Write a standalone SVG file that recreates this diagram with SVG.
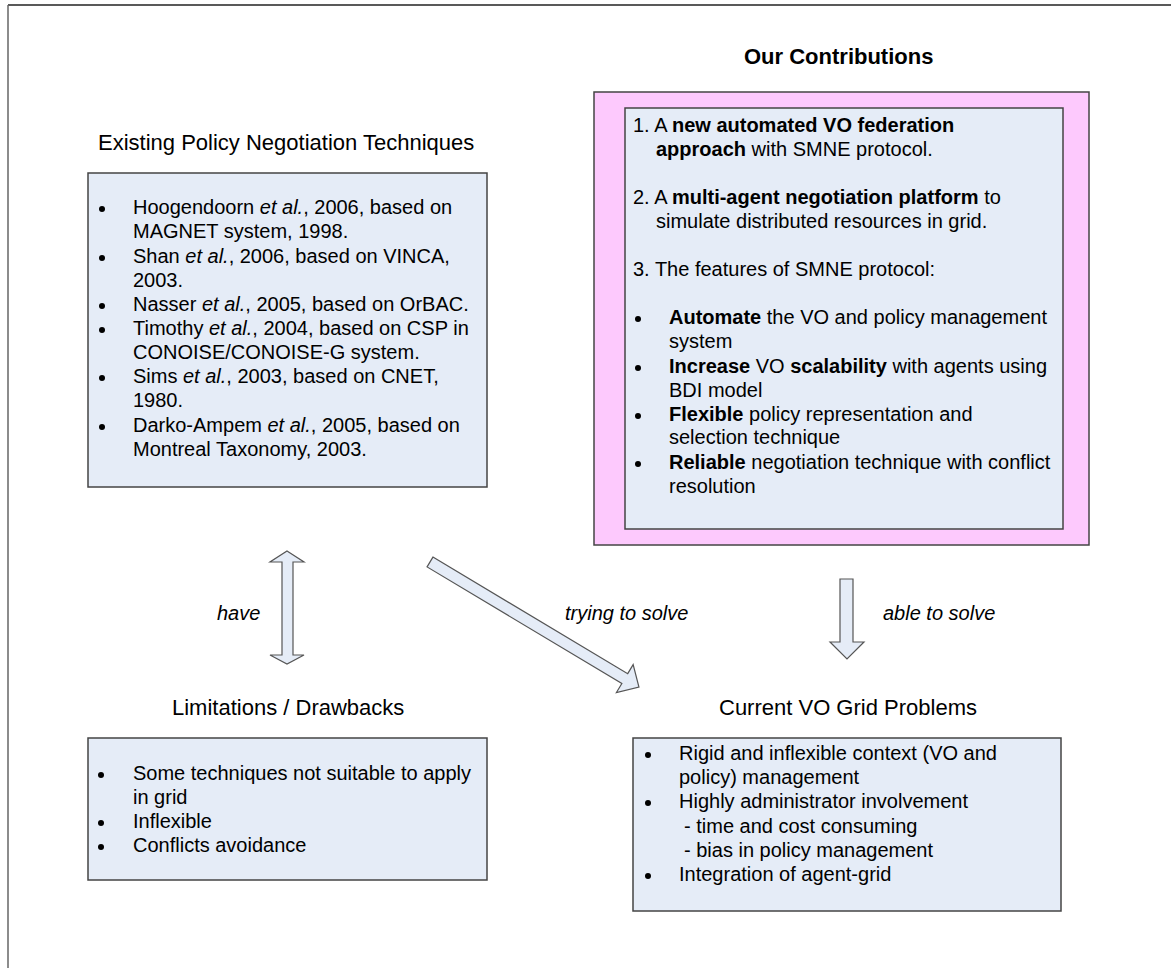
<svg xmlns="http://www.w3.org/2000/svg" width="1171" height="968" viewBox="0 0 1171 968">
<defs>
<style>
text{font-family:"Liberation Sans",Arial,sans-serif;fill:#000;}
.t{font-size:22px;}
.b{font-size:20px;}
.bold{font-weight:bold;}
.it{font-style:italic;}
.box{fill:#E5ECF7;stroke:#444;stroke-width:1.5;}
.pink{fill:#FDC9FD;stroke:#444;stroke-width:1.5;}
.arrow{fill:#E5ECF7;stroke:#555;stroke-width:1.2;stroke-linejoin:miter;}
.dot{fill:#000;}
</style>
</defs>
<rect width="1171" height="968" fill="#fff"/>
<line x1="8" y1="5" x2="1171" y2="5" stroke="#222" stroke-width="1.5"/>
<line x1="8" y1="5" x2="8" y2="968" stroke="#666" stroke-width="1.5"/>

<g id="existing">
<text class="t" x="98" y="150">Existing Policy Negotiation Techniques</text>
<rect class="box" x="88" y="173" width="399" height="314"/>
<g class="b">
<circle class="dot" cx="102" cy="209" r="3"/>
<text class="b" x="133" y="214">Hoogendoorn <tspan class="it">et al.</tspan>, 2006, based on</text>
<text class="b" x="133" y="238">MAGNET system, 1998.</text>
<circle class="dot" cx="102" cy="258" r="3"/>
<text class="b" x="133" y="263">Shan <tspan class="it">et al.</tspan>, 2006, based on VINCA,</text>
<text class="b" x="133" y="287">2003.</text>
<circle class="dot" cx="102" cy="306" r="3"/>
<text class="b" x="133" y="311">Nasser <tspan class="it">et al.</tspan>, 2005, based on OrBAC.</text>
<circle class="dot" cx="102" cy="330" r="3"/>
<text class="b" x="133" y="335">Timothy <tspan class="it">et al.</tspan>, 2004, based on CSP in</text>
<text class="b" x="133" y="359">CONOISE/CONOISE-G system.</text>
<circle class="dot" cx="102" cy="378" r="3"/>
<text class="b" x="133" y="383">Sims <tspan class="it">et al.</tspan>, 2003, based on CNET,</text>
<text class="b" x="133" y="407">1980.</text>
<circle class="dot" cx="102" cy="427" r="3"/>
<text class="b" x="133" y="432">Darko-Ampem <tspan class="it">et al.</tspan>, 2005, based on</text>
<text class="b" x="133" y="456">Montreal Taxonomy, 2003.</text>
</g>
</g>

<g id="contributions">
<text class="t bold" x="744" y="64">Our Contributions</text>
<rect class="pink" x="594" y="92" width="495" height="453"/>
<rect class="box" x="625" y="108" width="438" height="421"/>
<text class="b" x="633" y="132">1. A <tspan class="bold">new automated VO federation</tspan></text>
<text class="b" x="656" y="156"><tspan class="bold">approach</tspan> with SMNE protocol.</text>
<text class="b" x="633" y="204">2. A <tspan class="bold">multi-agent negotiation platform</tspan> to</text>
<text class="b" x="656" y="228">simulate distributed resources in grid.</text>
<text class="b" x="633" y="276">3. The features of SMNE protocol:</text>
<circle class="dot" cx="638" cy="319" r="3"/>
<text class="b" x="669" y="324"><tspan class="bold">Automate</tspan> the VO and policy management</text>
<text class="b" x="669" y="348">system</text>
<circle class="dot" cx="638" cy="368" r="3"/>
<text class="b" x="669" y="373"><tspan class="bold">Increase</tspan> VO <tspan class="bold">scalability</tspan> with agents using</text>
<text class="b" x="669" y="397">BDI model</text>
<circle class="dot" cx="638" cy="416" r="3"/>
<text class="b" x="669" y="421"><tspan class="bold">Flexible</tspan> policy representation and</text>
<text class="b" x="669" y="444">selection technique</text>
<circle class="dot" cx="638" cy="464" r="3"/>
<text class="b" x="669" y="469"><tspan class="bold">Reliable</tspan> negotiation technique with conflict</text>
<text class="b" x="669" y="493">resolution</text>
</g>

<g id="limitations">
<text class="t" x="172" y="715">Limitations / Drawbacks</text>
<rect class="box" x="88" y="738" width="399" height="142"/>
<circle class="dot" cx="101" cy="775" r="3"/>
<text class="b" x="133" y="780">Some techniques not suitable to apply</text>
<text class="b" x="133" y="804">in grid</text>
<circle class="dot" cx="101" cy="823" r="3"/>
<text class="b" x="133" y="828">Inflexible</text>
<circle class="dot" cx="101" cy="847" r="3"/>
<text class="b" x="133" y="852">Conflicts avoidance</text>
</g>

<g id="problems">
<text class="t" x="719" y="715">Current VO Grid Problems</text>
<rect class="box" x="633" y="738" width="428" height="173"/>
<circle class="dot" cx="648" cy="755" r="3"/>
<text class="b" x="679" y="760">Rigid and inflexible context (VO and</text>
<text class="b" x="679" y="784">policy) management</text>
<circle class="dot" cx="648" cy="803" r="3"/>
<text class="b" x="679" y="808">Highly administrator involvement</text>
<text class="b" x="684" y="833">- time and cost consuming</text>
<text class="b" x="684" y="857">- bias in policy management</text>
<circle class="dot" cx="648" cy="876" r="3"/>
<text class="b" x="679" y="881">Integration of agent-grid</text>
</g>

<g id="connectors">
<polygon class="arrow" points="287,551 304,562 293,562 293,655 304,655 287,664 270,655 282,655 282,562 270,562"/>
<text class="b it" x="217" y="620">have</text>
<polygon class="arrow" transform="translate(430,562) rotate(30.9)" points="0,-5.7 227,-5.7 227,-16.3 243.5,0 227,16.3 227,5.7 0,5.7"/>
<text class="b it" x="565" y="620">trying to solve</text>
<polygon class="arrow" points="840,579 853,579 853,642 864,642 847,659 830,642 840,642"/>
<text class="b it" x="883" y="620">able to solve</text>
</g>
</svg>
